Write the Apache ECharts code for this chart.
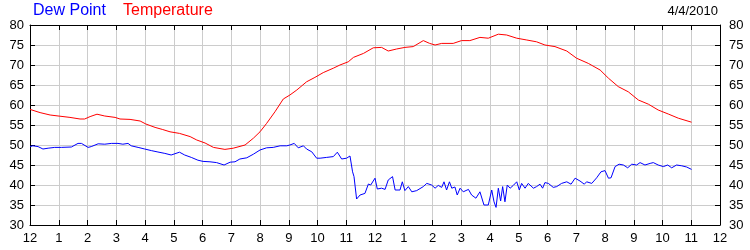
<!DOCTYPE html>
<html>
<head>
<meta charset="utf-8">
<script src="https://cdn.jsdelivr.net/npm/echarts@6/dist/echarts.min.js"></script>
<style>html,body{margin:0;padding:0;background:#fff;}#c{width:750px;height:250px;}</style>
</head>
<body>
<div id="c"></div>
<script>
var hourLabels = ['12','1','2','3','4','5','6','7','8','9','10','11','12','1','2','3','4','5','6','7','8','9','10','11','12'];
var yTicks = [30,35,40,45,50,55,60,65,70,75,80];
var dateText = '4/4/2010';
var seriesNames = ['Dew Point','Temperature'];

var tempTimes = [0,0.35,0.7,1.04,1.39,1.74,1.9,2.09,2.33,2.6,2.96,3.13,3.48,3.83,4.03,4.35,4.6,4.87,5.2,5.57,5.8,6.09,6.38,6.78,7.07,7.48,7.77,8.0,8.23,8.52,8.81,9.04,9.28,9.62,9.91,10.2,10.55,10.78,11.07,11.25,11.6,11.94,12.23,12.46,12.75,13.04,13.33,13.68,13.9,14.09,14.32,14.72,15.01,15.3,15.65,15.94,16.29,16.58,16.93,17.28,17.62,17.91,18.26,18.67,19.01,19.42,19.83,20.12,20.46,20.81,21.16,21.51,21.85,22.2,22.55,23.01];
var tempValues = [58.9,58.1,57.5,57.2,56.9,56.5,56.5,57.1,57.7,57.25,56.9,56.5,56.4,56.0,55.25,54.4,53.9,53.3,52.9,52.1,51.25,50.5,49.4,48.9,49.2,50.0,51.7,53.3,55.4,58.3,61.5,62.5,63.75,65.8,66.9,68.1,69.2,70.0,70.8,71.9,72.9,74.3,74.4,73.5,74.0,74.4,74.6,76.1,75.4,75.0,75.4,75.4,76.1,76.1,76.9,76.7,77.7,77.5,76.7,76.25,75.8,75.0,74.6,73.5,71.7,70.4,68.75,66.7,64.6,63.3,61.25,60.2,58.75,57.75,56.7,55.7];

var dewTimes = [0,0.1,0.28,0.45,0.63,0.86,1.09,1.44,1.67,1.79,2.02,2.13,2.37,2.6,2.83,3.06,3.23,3.41,3.52,3.76,3.99,4.22,4.45,4.69,4.91,5.2,5.38,5.61,5.84,6.02,6.26,6.49,6.75,6.96,7.13,7.3,7.54,7.77,8.0,8.23,8.46,8.7,8.93,9.04,9.19,9.33,9.51,9.62,9.8,9.97,10.09,10.32,10.55,10.69,10.84,11.01,11.13,11.22,11.27,11.36,11.48,11.65,11.77,11.85,12.0,12.08,12.23,12.35,12.46,12.61,12.7,12.87,12.95,13.04,13.16,13.28,13.45,13.68,13.8,13.97,14.09,14.2,14.32,14.4,14.49,14.59,14.67,14.78,14.86,14.96,15.07,15.25,15.36,15.51,15.65,15.79,15.94,16.06,16.14,16.21,16.29,16.37,16.44,16.52,16.6,16.7,16.81,16.93,17.02,17.1,17.22,17.33,17.51,17.62,17.74,17.83,17.91,18.03,18.2,18.32,18.49,18.67,18.82,18.96,19.13,19.28,19.36,19.54,19.71,19.86,20.0,20.12,20.21,20.35,20.49,20.64,20.79,20.93,21.1,21.22,21.39,21.57,21.68,21.85,22.03,22.18,22.32,22.49,22.67,22.84,23.01];
var dewValues = [49.6,49.8,49.6,49.0,49.2,49.4,49.4,49.5,50.4,50.4,49.4,49.6,50.3,50.2,50.4,50.4,50.2,50.4,49.8,49.4,49.0,48.6,48.25,47.9,47.5,48.2,47.5,46.9,46.2,45.9,45.8,45.6,45.0,45.7,45.8,46.5,46.8,47.7,48.75,49.3,49.4,49.8,49.8,50.0,50.4,49.3,49.8,49.0,48.3,46.7,46.7,46.9,47.1,48.2,46.5,46.7,47.25,43.3,42.1,36.5,37.5,37.9,40.25,40.0,41.7,39.0,39.2,38.9,41.25,42.1,38.75,38.75,40.8,38.6,39.6,38.3,38.6,39.6,40.4,40.0,39.2,39.9,39.4,40.8,38.75,40.8,39.2,39.5,37.5,39.2,38.3,38.9,37.5,36.7,38.3,35.0,35.0,38.75,35.8,34.4,39.2,36.0,39.6,35.8,40.0,39.2,39.9,40.8,38.75,40.4,39.2,40.4,39.2,39.6,40.2,39.2,40.6,40.4,39.4,39.6,40.4,40.8,40.2,41.7,41.0,40.2,40.8,40.4,41.8,43.3,43.6,41.7,41.8,44.6,45.2,45.0,44.3,45.2,45.0,45.6,45.0,45.4,45.6,45.0,44.6,45.0,44.3,45.0,44.8,44.5,43.9];

function pairs(t, v) { var out = []; for (var i = 0; i < t.length; i++) out.push([t[i], v[i]]); return out; }

var chart = echarts.init(document.getElementById('c'), null, {renderer: 'canvas'});
var font = 'Liberation Sans, Arial, sans-serif';
var axisCommonX = {
  type: 'value', min: 0, max: 24, interval: 1,
  axisLine: {show: true, onZero: false, lineStyle: {color: '#000', width: 1}},
  axisTick: {show: true, inside: true, length: 5, lineStyle: {color: '#000'}}
};
var axisCommonY = {
  type: 'value', min: yTicks[0], max: yTicks[yTicks.length - 1], interval: 5,
  axisLine: {show: true, onZero: false, lineStyle: {color: '#000', width: 1}},
  axisTick: {show: true, inside: true, length: 5, lineStyle: {color: '#000'}}
};
chart.setOption({
  animation: false,
  backgroundColor: '#fff',
  grid: {left: 30, right: 30, top: 25, bottom: 25, containLabel: false},
  xAxis: [
    Object.assign({}, axisCommonX, {
      position: 'bottom',
      axisLabel: {show: true, margin: 7, color: '#000', fontSize: 13, fontFamily: font,
        showMinLabel: true, showMaxLabel: true,
        formatter: function (v) { return hourLabels[Math.round(v)]; }},
      splitLine: {show: true, lineStyle: {color: '#cccccc', width: 1}}
    }),
    Object.assign({}, axisCommonX, {
      position: 'top', axisLabel: {show: false}, splitLine: {show: false}
    })
  ],
  yAxis: [
    Object.assign({}, axisCommonY, {
      position: 'left',
      axisLabel: {show: true, margin: 6, color: '#000', fontSize: 13, fontFamily: font},
      splitLine: {show: true, lineStyle: {color: '#cccccc', width: 1}}
    }),
    Object.assign({}, axisCommonY, {
      position: 'right',
      axisLabel: {show: true, margin: 9, color: '#000', fontSize: 13, fontFamily: font},
      splitLine: {show: false}
    })
  ],
  graphic: [
    {type: 'text', left: 33, top: 3, style: {text: seriesNames[0], fill: '#0000ff', font: '16px ' + font}},
    {type: 'text', left: 123, top: 3, style: {text: seriesNames[1], fill: '#ff0000', font: '16px ' + font}},
    {type: 'text', right: 32, top: 5, style: {text: dateText, fill: '#000', font: '13px ' + font}}
  ],
  series: [
    {name: seriesNames[0], type: 'line', xAxisIndex: 0, yAxisIndex: 0, data: pairs(dewTimes, dewValues),
      showSymbol: false, symbol: 'none', lineStyle: {color: '#0000ff', width: 1}, itemStyle: {color: '#0000ff'}, z: 3},
    {name: seriesNames[1], type: 'line', xAxisIndex: 0, yAxisIndex: 0, data: pairs(tempTimes, tempValues),
      showSymbol: false, symbol: 'none', lineStyle: {color: '#ff0000', width: 1}, itemStyle: {color: '#ff0000'}, z: 3}
  ]
});
</script>
</body>
</html>
